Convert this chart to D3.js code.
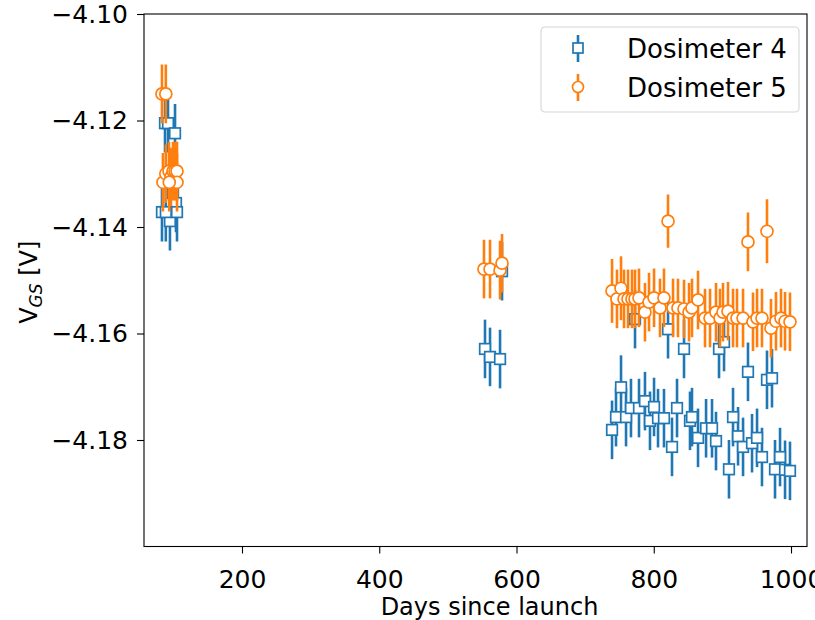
<!DOCTYPE html>
<html>
<head>
<meta charset="utf-8">
<script src="https://cdn.jsdelivr.net/npm/d3@7"></script>
<style>
  body { margin: 0; background: #fff; }
  text { font-family: "DejaVu Sans", sans-serif; fill: #000; }
</style>
</head>
<body>
<div id="chart"></div>
<script>
// Dosimeter 4 (blue squares)
var days4 = [83.4, 87.8, 92.2, 95.0, 89.0, 99.5, 102.4, 103.8, 105.3,
  554.1, 561.4, 576.0, 578.9,
  739.2, 745.0, 752.3, 759.6, 766.8, 772.7, 778.5, 787.2, 794.5, 800.4, 806.2, 814.9,
  820.8, 826.6, 833.9, 844.1, 852.8, 855.7, 864.5, 876.2, 884.9, 890.7, 895.1, 902.4,
  909.6, 915.5, 922.8, 930.1, 937.3, 943.2, 950.5, 957.7, 965.0, 972.3, 976.7, 984.0,
  991.3, 998.5];
var vgs4 = [-4.1372, -4.1205, -4.1205, -4.1389, -4.1372, -4.1336, -4.1224, -4.1355, -4.1372,
  -4.1629, -4.1644, -4.1648, -4.1483,
  -4.1781, -4.1757, -4.1701, -4.1757, -4.1740, -4.1573, -4.1740, -4.1727, -4.1764, -4.1738, -4.1759, -4.1759,
  -4.1592, -4.1813, -4.1740, -4.1629, -4.1764, -4.1757, -4.1796, -4.1778, -4.1778, -4.1802, -4.1629, -4.1616,
  -4.1855, -4.1757, -4.1793, -4.1813, -4.1672, -4.1806, -4.1796, -4.1832, -4.1687, -4.1684, -4.1855, -4.1832,
  -4.1856, -4.1858];
var err4 = [0.0055, 0.0055, 0.0055, 0.0055, 0.0055, 0.0055, 0.0055, 0.0055, 0.0055,
  0.0055, 0.0055, 0.0055, 0.0055,
  0.0055, 0.0055, 0.0060, 0.0055, 0.0055, 0.0055, 0.0055, 0.0055, 0.0055, 0.0055, 0.0055, 0.0055,
  0.0055, 0.0055, 0.0055, 0.0055, 0.0055, 0.0055, 0.0055, 0.0055, 0.0055, 0.0055, 0.0055, 0.0055,
  0.0055, 0.0055, 0.0055, 0.0055, 0.0055, 0.0055, 0.0055, 0.0055, 0.0055, 0.0055, 0.0055, 0.0055,
  0.0055, 0.0055];

// Dosimeter 5 (orange circles)
var days5 = [83.4, 89.0, 84.8, 89.0, 93.6, 96.5, 99.5, 102.4, 105.3, 105.3, 94.0,
  552.6, 561.4, 576.0, 578.9,
  739.2, 746.4, 752.3, 756.7, 762.5, 768.3, 772.7, 778.5, 787.2, 793.1, 800.4, 809.1,
  814.9, 820.8, 828.1, 835.3, 844.1, 851.4, 855.7, 864.5, 874.7, 882.0, 890.7, 896.5,
  900.9, 908.2, 915.5, 921.3, 930.1, 937.3, 944.6, 950.5, 957.7, 965.0, 970.8, 978.1,
  985.4, 991.3, 998.5];
var vgs5 = [-4.1150, -4.1150, -4.1316, -4.1300, -4.1295, -4.1306, -4.1295, -4.1295, -4.1295, -4.1316, -4.1316,
  -4.1479, -4.1479, -4.1481, -4.1468,
  -4.1520, -4.1535, -4.1515, -4.1535, -4.1535, -4.1535, -4.1535, -4.1533, -4.1560, -4.1541, -4.1533, -4.1552,
  -4.1533, -4.1389, -4.1552, -4.1552, -4.1554, -4.1560, -4.1552, -4.1537, -4.1571, -4.1571, -4.1560, -4.1571,
  -4.1560, -4.1558, -4.1571, -4.1571, -4.1571, -4.1428, -4.1578, -4.1571, -4.1571, -4.1408, -4.1590, -4.1577,
  -4.1571, -4.1577, -4.1578];
var err5 = [0.0055, 0.0055, 0.0055, 0.0055, 0.0055, 0.0055, 0.0055, 0.0055, 0.0055, 0.0055, 0.0055,
  0.0055, 0.0055, 0.0055, 0.0055,
  0.0060, 0.0055, 0.0060, 0.0055, 0.0055, 0.0055, 0.0055, 0.0055, 0.0055, 0.0055, 0.0055, 0.0055,
  0.0055, 0.0050, 0.0055, 0.0055, 0.0055, 0.0055, 0.0055, 0.0055, 0.0055, 0.0055, 0.0055, 0.0055,
  0.0055, 0.0055, 0.0055, 0.0055, 0.0055, 0.0055, 0.0055, 0.0055, 0.0055, 0.0060, 0.0055, 0.0055,
  0.0055, 0.0055, 0.0055];

var xTicks = [200, 400, 600, 800, 1000];
var yTicks = [-4.10, -4.12, -4.14, -4.16, -4.18];
var seriesNames = ["Dosimeter 4", "Dosimeter 5"];
var seriesColors = ["#1f77b4", "#ff7f0e"];

var margin = {top: 14, right: 8, bottom: 73.5, left: 144},
  width = 815 - margin.left - margin.right,
  height = 620 - margin.top - margin.bottom;

var x = d3.scaleLinear().domain([57.2, 1023.3]).range([0, width]);
var y = d3.scaleLinear().domain([-4.2, -4.1]).range([height, 0]);

var svg = d3.select("#chart").append("svg")
  .attr("width", 815)
  .attr("height", 620)
  .append("g")
  .attr("transform", "translate(" + margin.left + "," + margin.top + ")");

svg.append("clipPath").attr("id", "clip")
  .append("rect").attr("width", width).attr("height", height);

var plot = svg.append("g").attr("clip-path", "url(#clip)");

function series(days, vals, errs) {
  return days.map(function(d, i) { return {x: d, y: vals[i], e: errs[i]}; });
}

var data4 = series(days4, vgs4, err4);
var data5 = series(days5, vgs5, err5);

function drawSeries(data, color, marker) {
  var g = plot.append("g");
  g.selectAll("line")
    .data(data)
    .enter().append("line")
    .attr("x1", function(d) { return x(d.x); })
    .attr("x2", function(d) { return x(d.x); })
    .attr("y1", function(d) { return y(d.y - d.e); })
    .attr("y2", function(d) { return y(d.y + d.e); })
    .attr("stroke", color)
    .attr("stroke-width", 2.6);

  if (marker == "square") {
    g.selectAll("rect")
      .data(data)
      .enter().append("rect")
      .attr("x", function(d) { return x(d.x) - 5.3; })
      .attr("y", function(d) { return y(d.y) - 5.3; })
      .attr("width", 10.6)
      .attr("height", 10.6)
      .attr("fill", "#fff")
      .attr("stroke", color)
      .attr("stroke-width", 1.7);
  } else {
    g.selectAll("circle")
      .data(data)
      .enter().append("circle")
      .attr("cx", function(d) { return x(d.x); })
      .attr("cy", function(d) { return y(d.y); })
      .attr("r", 6)
      .attr("fill", "#fff")
      .attr("stroke", color)
      .attr("stroke-width", 1.7);
  }
}

drawSeries(data4, seriesColors[0], "square");
drawSeries(data5, seriesColors[1], "circle");

// axes
var xAxis = d3.axisBottom(x).tickValues(xTicks).tickSize(7).tickPadding(17).tickFormat(d3.format("d"));
var yAxis = d3.axisLeft(y).tickValues(yTicks).tickSize(7).tickPadding(9).tickFormat(d3.format(".2f"));

var gx = svg.append("g")
  .attr("transform", "translate(0," + height + ")")
  .call(xAxis);
var gy = svg.append("g").call(yAxis);

[gx, gy].forEach(function(g) {
  g.select(".domain").remove();
  g.selectAll("line").attr("stroke", "#000").attr("stroke-width", 1.1);
  g.selectAll("text").style("font-size", "25px").style("font-family", "DejaVu Sans");
});

svg.append("rect")
  .attr("width", width)
  .attr("height", height)
  .attr("fill", "none")
  .attr("stroke", "#000")
  .attr("stroke-width", 1.1);

svg.append("text")
  .attr("x", width / 2 + 14)
  .attr("y", height + 68.5)
  .attr("text-anchor", "middle")
  .style("font-size", "24px")
  .text("Days since launch");

var ylab = svg.append("text")
  .attr("transform", "translate(" + (-107) + "," + (height / 2 + 2) + ") rotate(-90)")
  .attr("text-anchor", "middle")
  .style("font-size", "24px");
ylab.append("tspan").text("V");
ylab.append("tspan").attr("dy", 5).style("font-size", "17px").style("font-style", "italic").text("GS");
ylab.append("tspan").attr("dy", -5).text(" [V]");

// legend
var legend = svg.append("g")
  .attr("transform", "translate(" + (541 - margin.left) + "," + (27 - margin.top) + ")");

legend.append("rect")
  .attr("width", 258)
  .attr("height", 85)
  .attr("rx", 4)
  .attr("fill", "#fff")
  .attr("fill-opacity", 0.8)
  .attr("stroke", "#d5d5d5")
  .attr("stroke-width", 1.1);

var item = legend.selectAll(".item")
  .data(seriesNames)
  .enter().append("g")
  .attr("class", "item")
  .attr("transform", function(d, i) { return "translate(0," + (21 + i * 39) + ")"; });

item.append("line")
  .attr("x1", 37).attr("x2", 37)
  .attr("y1", -13).attr("y2", 14)
  .attr("stroke", function(d, i) { return seriesColors[i]; })
  .attr("stroke-width", 2.6);

item.each(function(d, i) {
  var g = d3.select(this);
  if (i == 0) {
    g.append("rect")
      .attr("x", 37 - 5).attr("y", -5).attr("width", 10).attr("height", 10)
      .attr("fill", "#fff").attr("stroke", seriesColors[i]).attr("stroke-width", 1.7);
  } else {
    g.append("circle")
      .attr("cx", 37).attr("cy", 0).attr("r", 5.5)
      .attr("fill", "#fff").attr("stroke", seriesColors[i]).attr("stroke-width", 1.7);
  }
});

item.append("text")
  .attr("x", 86)
  .attr("y", 10)
  .style("font-size", "26px")
  .text(function(d) { return d; });
</script>
</body>
</html>
